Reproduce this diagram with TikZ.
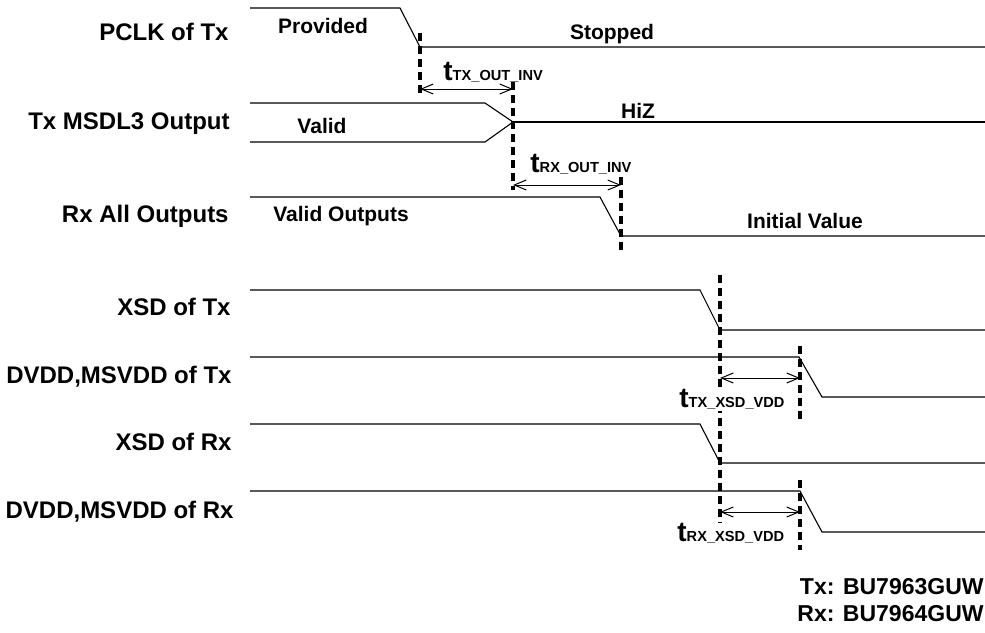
\documentclass[tikz,border=0pt]{standalone}
\usepackage{fontspec}
\setmainfont{Liberation Sans}
\usetikzlibrary{arrows.meta}

\tikzset{
  sig/.style={line width=0.55pt},
  edgeline/.style={line width=1.6pt, dash pattern=on 4pt off 2.5pt},
  gap/.style={<->, line width=0.5pt},
  >={Straight Barb[length=6pt,width=5pt]},
  lbl/.style={anchor=base east, inner sep=0pt, font=\fontsize{12}{14}\selectfont\bfseries},
  state/.style={anchor=base, inner sep=0pt, font=\fontsize{10.5}{12}\selectfont\bfseries},
  tlbl/.style={anchor=base west, inner sep=0pt, font=\bfseries}
}
\newcommand{\tname}[1]{{\fontsize{14}{15}\selectfont t}{\fontsize{7.3}{8}\selectfont #1}}

\begin{document}
\begin{tikzpicture}[x=0.5pt, y=-0.5pt]
\def\xs{250};
\def\xe{985};

\useasboundingbox (0,0) rectangle (985,632);

% signal names
\node[lbl] (pclk) at (229,40) {PCLK of Tx};
\node[lbl] (msdl) at (230,129) {Tx MSDL3 Output};
\node[lbl] (rxall) at (229,222) {Rx All Outputs};
\node[lbl] (xsdtx) at (231,315) {XSD of Tx};
\node[lbl] (vddtx) at (232,383) {DVDD,MSVDD of Tx};
\node[lbl] (xsdrx) at (232,450) {XSD of Rx};
\node[lbl] (vddrx) at (234,518) {DVDD,MSVDD of Rx};

% waveforms
\draw[sig] (\xs,8) -- (400,8) -- (420,47) -- (\xe,47);
\draw[sig] (\xs,103) -- (485,103) -- (513,122) -- (485,142) -- (\xs,142);
\draw[sig] (513,122) -- (\xe,122);
\draw[sig] (\xs,197) -- (600,197) -- (621,236) -- (\xe,236);
\draw[sig] (\xs,290) -- (700,290) -- (720,330) -- (\xe,330);
\draw[sig] (\xs,357) -- (799,357) -- (822,397) -- (\xe,397);
\draw[sig] (\xs,424) -- (700,424) -- (720,463) -- (\xe,463);
\draw[sig] (\xs,491) -- (800,491) -- (822,532) -- (\xe,532);

% states
\node[state] (prov) at (323,33) {Provided};
\node[state] (stop) at (612,39) {Stopped};
\node[state] (valid) at (322,133) {Valid};
\node[state] (hiz) at (638,118) {HiZ};
\node[state] (vout) at (341,221) {Valid Outputs};
\node[state] (init) at (805,228) {Initial Value};

% edges
\coordinate (e1t) at (420,33);
\coordinate (e1b) at (420,93);
\coordinate (e2t) at (513,82);
\coordinate (e2b) at (513,190);
\coordinate (e3t) at (621,177);
\coordinate (e3b) at (621,250);
\coordinate (e4t) at (720,275);
\coordinate (e4b) at (720,523);
\coordinate (e5t) at (800,346);
\coordinate (e5b) at (800,420);
\coordinate (e6t) at (800,480);
\coordinate (e6b) at (800,550);
\draw[edgeline] (e1t) -- (e1b);
\draw[edgeline] (e2t) -- (e2b);
\draw[edgeline] (e3t) -- (e3b);
\draw[edgeline] (e4t) -- (e4b);
\draw[edgeline] (e5t) -- (e5b);
\draw[edgeline] (e6t) -- (e6b);

% timings
\coordinate (g1a) at (420,89);
\coordinate (g1b) at (513,89);
\coordinate (g2a) at (513,185);
\coordinate (g2b) at (621,185);
\coordinate (g3a) at (720,378);
\coordinate (g3b) at (800,378);
\coordinate (g4a) at (720,512);
\coordinate (g4b) at (800,512);
\draw[gap] (g1a) -- (g1b);
\draw[gap] (g2a) -- (g2b);
\draw[gap] (g3a) -- (g3b);
\draw[gap] (g4a) -- (g4b);

\node[tlbl] (ttxout) at (443,80) {\tname{TX\_OUT\_INV}};
\node[tlbl] (trxout) at (530,172) {\tname{RX\_OUT\_INV}};
\node[tlbl, fill=white, inner sep=1pt] (ttxxsd) at (677,407) {\tname{TX\_XSD\_VDD}};
\node[tlbl] (trxxsd) at (677,541) {\tname{RX\_XSD\_VDD}};

% parts
\node[anchor=base east, inner sep=0pt, font=\fontsize{11.5}{13}\selectfont\bfseries] (ptx) at (984,594) {Tx: BU7963GUW};
\node[anchor=base east, inner sep=0pt, font=\fontsize{11.5}{13}\selectfont\bfseries] (prx) at (984,621) {Rx: BU7964GUW};

\end{tikzpicture}
\end{document}
